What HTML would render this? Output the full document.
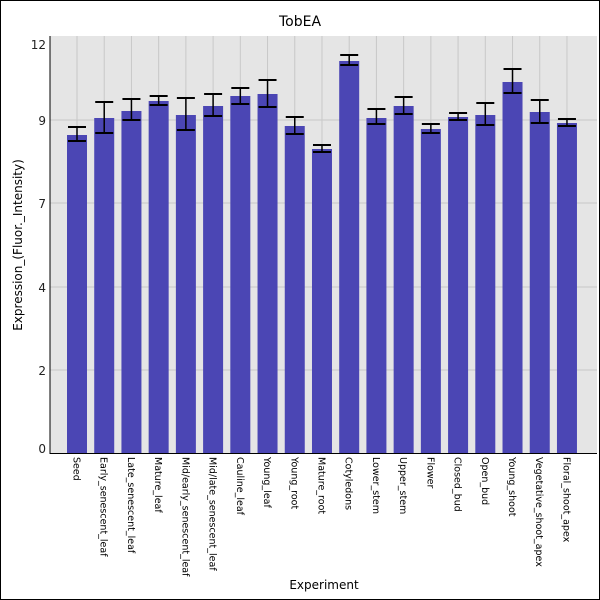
<!DOCTYPE html>
<html><head><style>body{margin:0;background:#fff}svg{display:block}</style></head><body>
<svg width="600" height="600" xmlns="http://www.w3.org/2000/svg" font-family="DejaVu Sans, Liberation Sans, sans-serif">
<rect x="0.5" y="0.5" width="599" height="599" fill="#fff" stroke="#000"/>
<rect x="50" y="36" width="547" height="417" fill="#e5e5e5"/>
<g stroke="#c8c8c8" stroke-width="1">
<line x1="50" x2="597" y1="370" y2="370"/><line x1="50" x2="597" y1="287" y2="287"/><line x1="50" x2="597" y1="203" y2="203"/><line x1="50" x2="597" y1="120" y2="120"/>
</g>
<g id="vg" stroke="#c8c8c8"></g>
<g id="bars"></g>
<g id="labels" font-size="9.5" fill="#000"></g>
<line x1="50" y1="36" x2="50" y2="454" stroke="#000"/>
<line x1="50" y1="453.5" x2="597" y2="453.5" stroke="#000"/>
<g font-size="12" text-anchor="end" fill="#222">
<text x="46" y="49">12</text><text x="46" y="125">9</text><text x="46" y="208">7</text><text x="46" y="292">4</text><text x="46" y="375">2</text><text x="46" y="453">0</text>
</g>
<text x="300" y="26" font-size="14" text-anchor="middle">TobEA</text>
<text x="324" y="589" font-size="12" text-anchor="middle">Experiment</text>
<text transform="translate(22,245) rotate(-90)" font-size="12" text-anchor="middle">Expression_(Fluor._Intensity)</text>
<script>
var d=[["Seed",135,127,141],["Early_senescent_leaf",118,102,133],["Late_senescent_leaf",111,99,120],["Mature_leaf",101,96,105],["Mid/early_senescent_leaf",115,98,130],["Mid/late_senescent_leaf",106,94,116],["Cauline_leaf",96,88,104],["Young_leaf",94,80,107],["Young_root",126,117,134],["Mature_root",149,145,152],["Cotyledons",61,55,65],["Lower_stem",118,109,124],["Upper_stem",106,97,114],["Flower",129,124,133],["Closed_bud",117,113,120],["Open_bud",115,103,125],["Young_shoot",82,69,93],["Vegetative_shoot_apex",112,100,123],["Floral_shoot_apex",123,119,126]];
var ns="http://www.w3.org/2000/svg",vg=document.getElementById("vg"),b=document.getElementById("bars"),l=document.getElementById("labels");
function el(p,t,a){var e=document.createElementNS(ns,t);for(var k in a)e.setAttribute(k,a[k]);p.appendChild(e);return e;}
d.forEach(function(r,i){var c=77+i*27.22;
el(vg,"line",{x1:c,x2:c,y1:36,y2:453});
el(b,"rect",{x:c-10,y:r[1],width:20,height:453-r[1],fill:"#4b46b4"});
el(b,"line",{x1:c,x2:c,y1:r[2],y2:r[3],stroke:"#000","stroke-width":1.5});
el(b,"line",{x1:c-9,x2:c+9,y1:r[2],y2:r[2],stroke:"#000","stroke-width":2});
el(b,"line",{x1:c-9,x2:c+9,y1:r[3],y2:r[3],stroke:"#000","stroke-width":2});
var t=el(l,"text",{transform:"translate("+(c-3.5)+",457) rotate(90)"});t.textContent=r[0];});
</script>
</svg>
</body></html>
